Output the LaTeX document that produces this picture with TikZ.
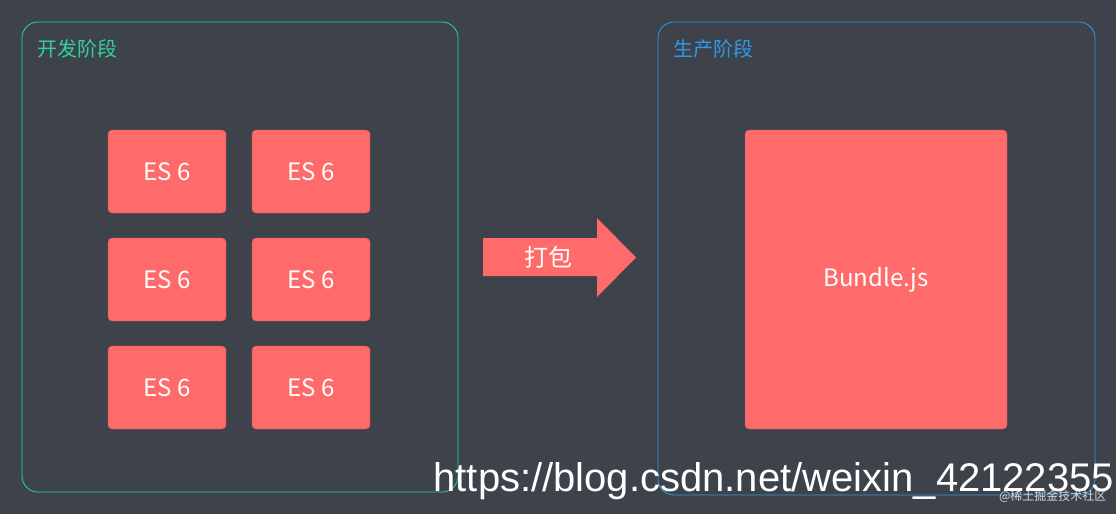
\documentclass[tikz,border=0pt]{standalone}
\usepackage{fontspec}
\setmainfont{Noto Sans CJK SC}
\newfontfamily\wm{Liberation Sans}
\usetikzlibrary{shapes.arrows}
\definecolor{bg}{HTML}{3E424A}
\definecolor{boxred}{HTML}{FF6B6B}
\definecolor{gfr}{HTML}{2FD39A}
\definecolor{bfr}{HTML}{2F9BE8}
\tikzset{
  frame/.style={draw, line width=0.8pt, rounded corners=16pt},
  esbox/.style={fill=boxred, draw=boxred!80!black, line width=0.4pt, rounded corners=4pt, minimum width=118pt, minimum height=83pt, text=white, font=\fontsize{24}{28}\selectfont, inner sep=0pt},
}
\begin{document}
\begin{tikzpicture}[x=1pt,y=-1pt]
\fill[bg] (0,0) rectangle (1116,514);
\useasboundingbox (0,0) rectangle (1116,514);
\draw[frame, gfr] (22,22) rectangle (458,492);
\draw[frame, bfr] (658,22) rectangle (1095,495);
\node[anchor=west, text=gfr, font=\fontsize{20}{24}\selectfont] (t1) at (34,49) {开发阶段};
\node[anchor=west, text=bfr, font=\fontsize{20}{24}\selectfont] (t2) at (670,49) {生产阶段};
\foreach \r/\y in {1/171.5,2/279.5,3/387.5}{
  \node[esbox] (a\r) at (167,\y) {ES 6};
  \node[esbox] (b\r) at (311,\y) {ES 6};
}
\node[esbox, minimum width=262pt, minimum height=299pt] (bundle) at (876,279.5) {Bundle.js};
\fill[boxred] (483,238) -- (597,238) -- (597,218) -- (636,257.5) -- (597,297) -- (597,276) -- (483,276) -- cycle;
\node[text=white, font=\fontsize{24}{28}\selectfont] (arr) at (548,257) {打包};
\node[anchor=east, text=white!80!bg, font=\fontsize{12}{14}\selectfont] (wm2) at (1110,496) {@稀土掘金技术社区};
\node[anchor=west, text=white, font=\wm\fontsize{40}{46}\selectfont] (wm1) at (430,481) {https://blog.csdn.net/weixin\_42122355};
\end{tikzpicture}
\end{document}
